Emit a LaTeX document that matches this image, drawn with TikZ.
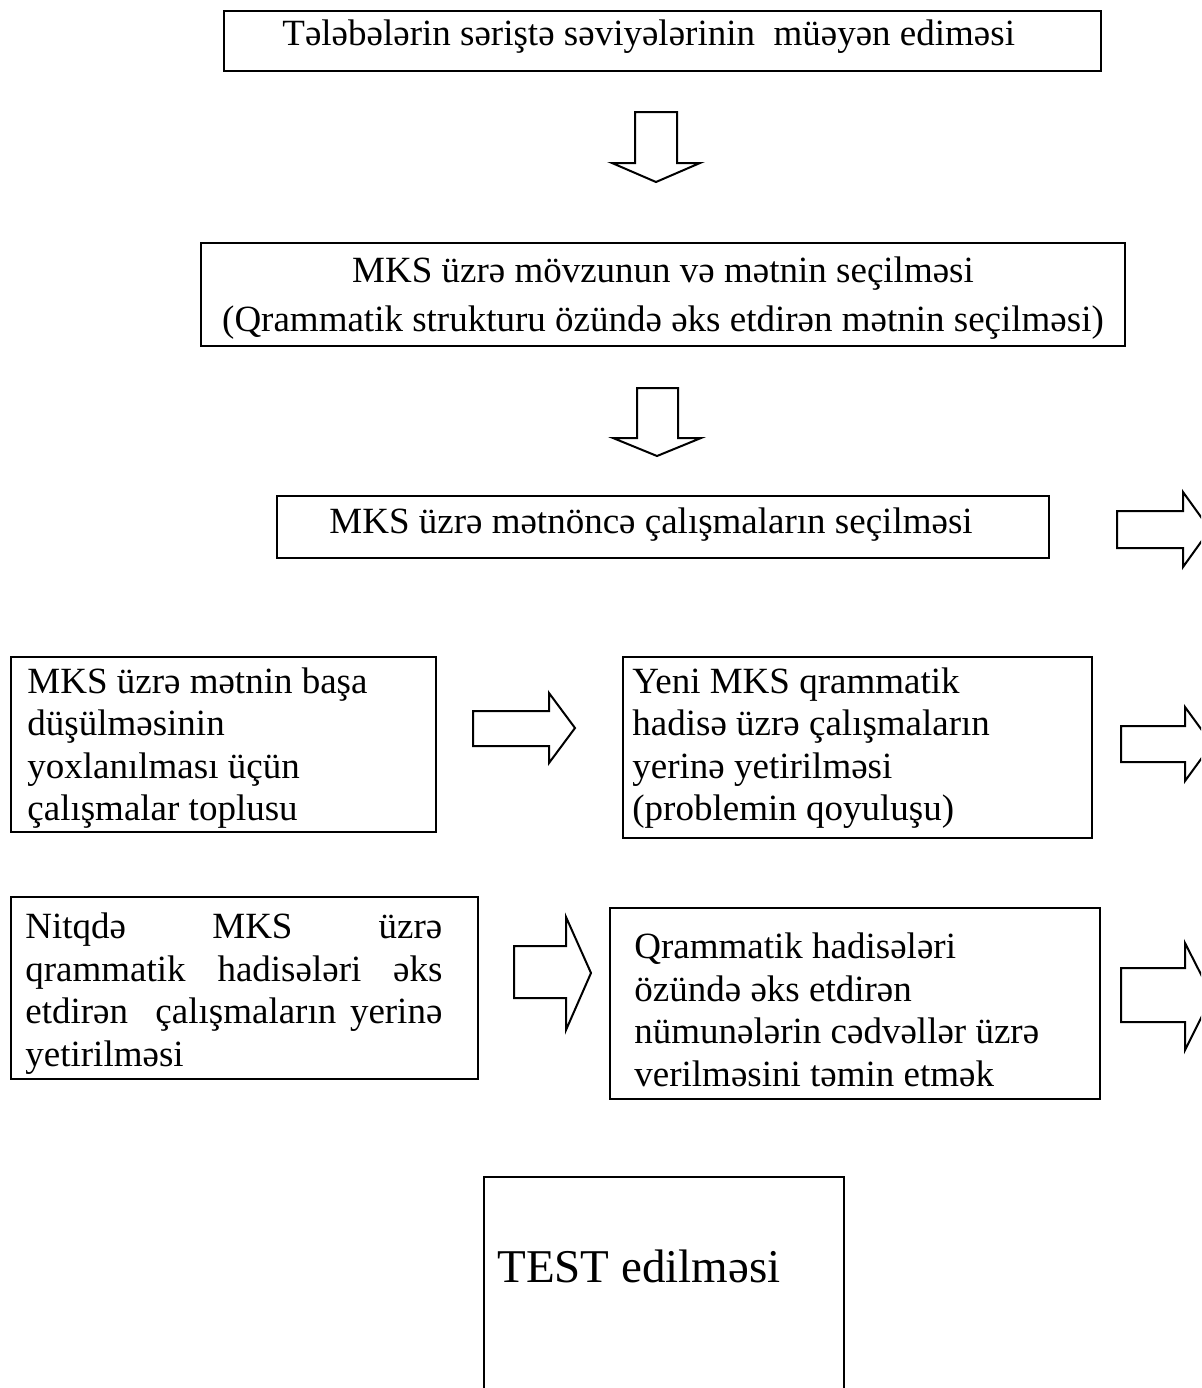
\documentclass[tikz,border=0pt]{standalone}
\usepackage{fontspec}
\setmainfont{Liberation Serif}
\usetikzlibrary{fit}
\begin{document}
\begin{tikzpicture}[x=0.5pt,y=-0.5pt,
  box/.style={draw, line width=1.3pt, inner sep=0pt},
  blk/.style={draw, line width=1pt, line join=miter, fill=white},
  txt/.style={inner sep=0pt, font=\fontsize{18.5pt}{21.25pt}\selectfont, align=left},
  txtc/.style={inner sep=0pt, font=\fontsize{18.5pt}{24.5pt}\selectfont, align=center},
  big/.style={inner sep=0pt, font=\fontsize{23.5pt}{28pt}\selectfont}]
\useasboundingbox (0,0) rectangle (1201,1388);
\clip (0,0) rectangle (1201,1388);

% boxes
\node[box, fit={(224,11) (1101,71)}] (b1) {};
\node[box, fit={(201,243) (1125,346)}] (b2) {};
\node[box, fit={(277,496) (1049,558)}] (b3) {};
\node[box, fit={(11,657) (436,832)}] (b4) {};
\node[box, fit={(623,657) (1092,838)}] (b5) {};
\node[box, fit={(11,897) (478,1079)}] (b6) {};
\node[box, fit={(610,908) (1100,1099)}] (b7) {};
\node[box, fit={(484,1177) (844,1420)}] (b8) {};

% texts (base anchor = baseline of the last line)
\node[txt, anchor=base west] (t1) at (282,45) {Tələbələrin səriştə səviyələrinin\ \ müəyən ediməsi};
\node[txtc, anchor=base] (t2) at (663,331) {MKS üzrə mövzunun və mətnin seçilməsi\\(Qrammatik strukturu özündə əks etdirən mətnin seçilməsi)};
\node[txt, anchor=base] (t3) at (651,533) {MKS üzrə mətnöncə çalışmaların seçilməsi};
\node[txt, anchor=base west] (t4) at (27,820.5) {MKS üzrə mətnin başa\\düşülməsinin\\yoxlanılması üçün\\çalışmalar toplusu};
\node[txt, anchor=base west] (t5) at (632,820.5) {Yeni MKS qrammatik\\hadisə üzrə çalışmaların\\yerinə yetirilməsi\\(problemin qoyuluşu)};
\node[txt, anchor=base west] (t6) at (25,1066) {\makebox[208.5pt][s]{Nitqdə MKS üzrə}\\\makebox[208.5pt][s]{qrammatik hadisələri əks}\\\makebox[208.5pt][s]{etdirən\ \ çalışmaların yerinə}\\yetirilməsi};
\node[txt, anchor=base west] (t7) at (634,1086) {Qrammatik hadisələri\\özündə əks etdirən\\nümunələrin cədvəllər üzrə\\verilməsini təmin etmək};
\node[big, anchor=base west] (t8) at (497,1282) {TEST edilməsi};

% block arrows (down)
\draw[blk] (635,112) -- (677,112) -- (677,163) -- (700,163) -- (656,182) -- (612,163) -- (635,163) -- cycle;
\draw[blk] (637,388) -- (678,388) -- (678,438) -- (701,438) -- (657,456) -- (613,438) -- (637,438) -- cycle;
% block arrows (right)
\draw[blk] (1117,511) -- (1183,511) -- (1183,492) -- (1210,529.5) -- (1183,567) -- (1183,548) -- (1117,548) -- cycle;
\draw[blk] (473,711) -- (549,711) -- (549,693) -- (575,728) -- (549,763) -- (549,746) -- (473,746) -- cycle;
\draw[blk] (1121,726) -- (1185,726) -- (1185,707) -- (1212,744) -- (1185,781) -- (1185,762) -- (1121,762) -- cycle;
\draw[blk] (514,946) -- (566,946) -- (566,917) -- (591,973) -- (566,1030) -- (566,998) -- (514,998) -- cycle;
\draw[blk] (1121,968) -- (1185,968) -- (1185,943) -- (1212,996) -- (1185,1050) -- (1185,1022) -- (1121,1022) -- cycle;
\end{tikzpicture}
\end{document}
